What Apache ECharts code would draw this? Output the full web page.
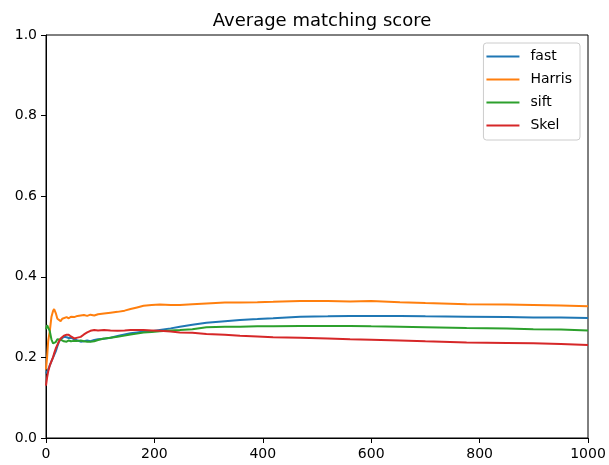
<!DOCTYPE html>
<html>
<head>
<meta charset="utf-8">
<script src="https://cdn.jsdelivr.net/npm/echarts@6/dist/echarts.min.js"></script>
<style>html,body{margin:0;padding:0;background:#fff;}#c{width:609px;height:465px;}</style>
</head>
<body>
<div id="c"></div>
<script>
const xs = [0,2,4,7,10,13,15,18,21,24,27,30,33,38,42,46,52,58,64,70,76,82,89,96,107,119,132,145,156,168,180,195,210,230,247,270,296,330,358,390,419,469,520,561,600,653,700,776,850,899,950,1000];
const fast = [0.16,0.165,0.17,0.18,0.19,0.2,0.206,0.215,0.228,0.239,0.245,0.248,0.251,0.25,0.248,0.249,0.245,0.242,0.239,0.24,0.242,0.24,0.243,0.245,0.246,0.249,0.253,0.257,0.26,0.262,0.264,0.265,0.268,0.272,0.276,0.281,0.286,0.29,0.293,0.295,0.297,0.301,0.302,0.303,0.303,0.303,0.302,0.301,0.3,0.299,0.299,0.298];
const harris = [0.17,0.2,0.24,0.265,0.3,0.315,0.32,0.31,0.296,0.293,0.29,0.296,0.298,0.3,0.297,0.301,0.3,0.303,0.304,0.305,0.303,0.306,0.304,0.307,0.309,0.311,0.313,0.316,0.32,0.324,0.328,0.33,0.331,0.33,0.33,0.332,0.334,0.336,0.336,0.337,0.338,0.34,0.34,0.339,0.34,0.337,0.335,0.332,0.331,0.33,0.329,0.327];
const sift = [0.27,0.28,0.28,0.265,0.245,0.235,0.231,0.238,0.245,0.247,0.244,0.241,0.24,0.239,0.242,0.24,0.241,0.241,0.242,0.24,0.239,0.239,0.24,0.243,0.247,0.249,0.251,0.254,0.257,0.259,0.262,0.263,0.265,0.267,0.268,0.27,0.275,0.276,0.276,0.277,0.277,0.278,0.278,0.278,0.277,0.276,0.275,0.273,0.272,0.27,0.269,0.267];
const skel = [0.13,0.15,0.165,0.18,0.19,0.2,0.21,0.222,0.231,0.24,0.247,0.251,0.254,0.256,0.256,0.252,0.247,0.249,0.251,0.257,0.262,0.266,0.268,0.267,0.268,0.267,0.266,0.267,0.268,0.268,0.268,0.267,0.266,0.264,0.262,0.261,0.258,0.256,0.254,0.252,0.25,0.249,0.247,0.245,0.244,0.242,0.24,0.237,0.236,0.235,0.233,0.231];
const seriesNames = ['fast','Harris','sift','Skel'];
const colors = ['#1f77b4','#ff7f0e','#2ca02c','#d62728'];
const xTicks = [0,200,400,600,800,1000];
const yTicks = [0.0,0.2,0.4,0.6,0.8,1.0];

const FONT = 'DejaVu Sans';
const chart = echarts.init(document.getElementById('c'), null, {renderer:'canvas'});
const allData = [fast, harris, sift, skel];
chart.setOption({
  animation: false,
  backgroundColor: '#fff',
  title: {
    text: 'Average matching score',
    left: 317, top: 7, textAlign: 'center',
    textStyle: {fontFamily: FONT, fontSize: 18, fontWeight: 'normal', color: '#000'}
  },
  legend: {
    orient: 'vertical', right: 29, top: 43,
    data: seriesNames,
    icon: 'rect', itemWidth: 33, itemHeight: 2, itemGap: 8,
    padding: [6, 8, 7, 3],
    borderColor: '#cccccc', borderWidth: 1, borderRadius: 3,
    backgroundColor: 'rgba(255,255,255,0.8)',
    textStyle: {fontFamily: FONT, fontSize: 14, color: '#000', lineHeight: 15, padding: [0,0,0,6]}
  },
  grid: {left: 46, right: 21, top: 35, bottom: 27, show: true, borderColor: '#000', borderWidth: 1, containLabel: false},
  xAxis: {
    type: 'value', min: xTicks[0], max: xTicks[xTicks.length-1], interval: 200,
    axisLine: {show: true, lineStyle: {color: '#000', width: 1}},
    axisTick: {show: true, inside: false, length: 5, lineStyle: {color: '#000'}},
    splitLine: {show: false},
    axisLabel: {fontFamily: FONT, fontSize: 14, color: '#000', margin: 9, formatter: v => String(v)}
  },
  yAxis: {
    type: 'value', min: yTicks[0], max: yTicks[yTicks.length-1], interval: 0.2,
    axisLine: {show: true, lineStyle: {color: '#000', width: 1}},
    axisTick: {show: true, inside: false, length: 5, lineStyle: {color: '#000'}},
    splitLine: {show: false},
    axisLabel: {fontFamily: FONT, fontSize: 14, color: '#000', margin: 9, formatter: v => v.toFixed(1)}
  },
  series: seriesNames.map((n, i) => ({
    name: n, type: 'line', showSymbol: false, symbol: 'none',
    data: xs.map((x, k) => [x, allData[i][k]]),
    lineStyle: {color: colors[i], width: 2},
    itemStyle: {color: colors[i]}
  }))
});
</script>
</body>
</html>
